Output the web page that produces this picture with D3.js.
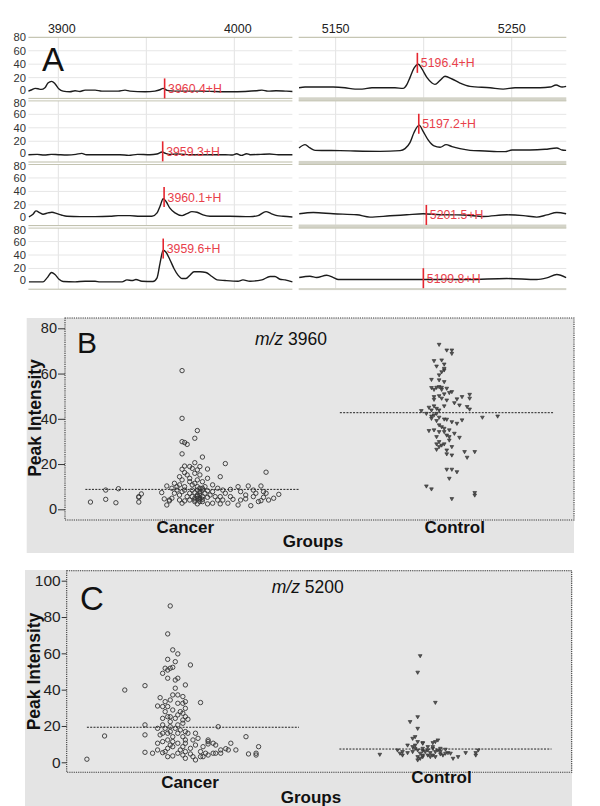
<!DOCTYPE html>
<html><head><meta charset="utf-8">
<script src="https://cdn.jsdelivr.net/npm/d3@7"></script>
<style>body{margin:0;background:#fff;} svg{display:block;font-family:"Liberation Sans",Arial,sans-serif;}</style>
</head><body><svg id="c" width="600" height="806"></svg>
<script>
// ---------------- DATA ----------------
// Panel A: spectra [m/z, intensity]
const spectrumL1 = [[3883,0],[3885,2],[3886.8,4],[3888.5,3.5],[3890.2,2.5],[3892.4,5],[3894.1,12],[3896.2,14.5],[3898.1,11],[3900.4,3],[3902.7,0],[3906.6,-1],[3909.5,0.5],[3912.3,-0.5],[3915.2,1.5],[3920.9,1.5],[3924.8,0],[3934,0],[3937.9,1.5],[3940.7,0],[3949.3,-1],[3954.9,0],[3957.8,2],[3959.5,4],[3961.8,1],[3966.3,0],[3980.5,0],[3997.5,-1],[4006,-0.5],[4012.3,0.5],[4015.7,1.5],[4019.1,0],[4023.7,0.5],[4029,0],[4033,-0.5]];
const spectrumL2 = [[3883,0],[3888,0.5],[3892,-0.5],[3896,0.5],[3900,0],[3905,-0.5],[3910,0.5],[3913.3,2],[3916,0],[3925,0],[3935,0],[3940,-1],[3945,0.5],[3952,0],[3956,1],[3959,4],[3961,2],[3963,0.5],[3968,1],[3975,0],[3985,0],[3995,0],[3999,-0.5],[4001.3,1.5],[4004,-1],[4007,1.5],[4009,0],[4015,0.5],[4020,1],[4025,0],[4033,0]];
const spectrumL3 = [[3883.3,2],[3885.6,6],[3887.3,11],[3889.6,8],[3891.3,6],[3894.1,8],[3896.4,9],[3899.2,7],[3902.1,4.5],[3904.9,3],[3912.3,2.5],[3920.9,2.5],[3929.4,3],[3934,4],[3940.7,4],[3946.4,3],[3953.2,3],[3956.1,8],[3957.8,18],[3959.6,29],[3961.2,25],[3963.4,15],[3966.3,8],[3970.3,4],[3973.1,7],[3975.9,10],[3978.8,9],[3982.2,5],[3986.2,3],[3997.5,3],[4008.9,2.5],[4013.5,4],[4018,10],[4020.9,7],[4024.3,4],[4027.7,3],[4033,2]];
const spectrumL4 = [[3883.3,0],[3891.3,0],[3893.6,6],[3896.2,14],[3898.1,11],[3900.4,4],[3902.7,0.5],[3909.5,0],[3915.2,1],[3920.9,1],[3923.7,0],[3936.2,0],[3939,3],[3941.9,2],[3944.1,3.5],[3947.5,1],[3953.8,0.5],[3956.1,6],[3957.8,28],[3959.6,47],[3961.2,44],[3963.4,33],[3965.7,20],[3968,10],[3970.3,5],[3972.5,5],[3974.8,10],[3977.1,15],[3980.5,15],[3983.9,14],[3987.3,8],[3990.2,3],[3994.7,2],[4002.1,1],[4004.9,3],[4008.9,1],[4015.7,3],[4020.3,8],[4023.1,8],[4025.9,4],[4028.8,3],[4033,0]];
const spectrumR1 = [[5129.2,5],[5132.6,6],[5148.5,6],[5155.3,5],[5161,3],[5165,3],[5170.6,5],[5183.7,5],[5188.3,4],[5190.5,10],[5192.2,20],[5194.5,34],[5197,40],[5199,33],[5201.9,20],[5204.7,12],[5206.4,10],[5209.3,16],[5212.1,22],[5216.1,18],[5220.6,12],[5226.3,7],[5237.7,5],[5245.1,3],[5251.9,5],[5266.1,5],[5271.8,6],[5275.2,9],[5278.6,6],[5280.9,7]];
const spectrumR2 = [[5129.2,10],[5132.6,15],[5135.4,10],[5138.3,6.5],[5152.5,6],[5175.2,5],[5186.6,6],[5189.4,9],[5192.2,18],[5194.5,33],[5197.4,44],[5199.6,35],[5202.5,22],[5205.9,13],[5209.3,11],[5212.7,15],[5216.1,12],[5220.6,9],[5226.3,6.5],[5234.8,5.5],[5241.7,4.5],[5246.2,4.5],[5250.2,7],[5260.4,7],[5268.9,8],[5275.6,10],[5278.6,7],[5280.9,6.5]];
const spectrumR3 = [[5129.3,6.7],[5137.3,8.6],[5148.7,6.7],[5162,5.2],[5169.5,1.8],[5180.9,3.7],[5190.4,5.2],[5199.8,6.7],[5209.3,5.2],[5222.5,5],[5233.9,2.7],[5247.2,5.2],[5256.6,4],[5264.2,1.8],[5270,5],[5275.6,8.6],[5280.9,6.7]];
const spectrumR4 = [[5129.3,6.5],[5135.4,8.5],[5139.2,6.5],[5144.9,10],[5148.7,6.5],[5151.5,3.5],[5175,3.5],[5199.8,3.5],[5225,3.5],[5247.2,5],[5264.2,3.5],[5269.9,6],[5275.6,11],[5280.9,6.5]];
// peak markers [label, m/z, height at marker centre]
const markersL = [["3960.4+H",3960.4,4],["3959.3+H",3959.3,5],["3960.1+H",3960.1,31.5],["3959.6+H",3959.6,49.6]];
const markersR = [["5196.4+H",5196.4,42],["5197.2+H",5197.2,46],["5201.5+H",5201.5,5],["5199.8+H",5199.8,5.5]];
const ticksL = [3900,4000], gridL = [3900,3950,4000];
const ticksR = [5150,5250], gridR = [5150,5200,5250];
const intensityTicks = [0,20,40,60,80];

// Panels B and C: groups and points [jitter, peak intensity]
const groups = ["Cancer","Control"];
const bCancer = [[-0.04,61.3],[-0.04,40.2],[0.02,34.8],[0.01,31.4],[-0.04,29.9],[-0.03,29.5],[-0.02,28.7],[-0.04,24.5],[0.04,23.1],[0.13,20.2],[0.01,20.6],[-0.03,19.1],[-0.01,18.9],[0.00,18.1],[0.02,17.4],[-0.04,17.7],[0.06,17.8],[0.29,16.4],[0.11,14.4],[-0.05,14.4],[-0.02,15.2],[0.01,15.9],[0.03,15.2],[0.06,13.7],[-0.04,13.0],[-0.01,12.2],[0.02,13.0],[0.04,12.2],[-0.10,10.3],[-0.07,11.5],[-0.05,10.8],[-0.03,10.0],[0.00,10.8],[0.02,10.0],[0.05,10.0],[0.08,10.8],[0.10,9.3],[0.12,8.5],[0.15,8.8],[0.18,10.0],[0.22,10.3],[0.27,10.3],[0.24,8.5],[0.28,7.8],[0.29,7.1],[0.34,6.6],[0.32,4.9],[0.30,4.1],[0.27,3.8],[0.26,3.4],[0.23,1.6],[0.21,4.6],[0.19,4.1],[0.18,1.9],[0.16,4.4],[0.15,5.6],[0.13,7.1],[0.11,5.6],[0.10,4.1],[0.08,2.7],[0.06,2.4],[0.04,3.4],[0.03,4.9],[0.02,6.3],[0.03,7.8],[0.04,5.6],[0.05,7.1],[0.06,5.3],[0.07,6.3],[0.08,7.8],[0.09,5.6],[0.01,4.9],[0.01,4.1],[0.03,3.4],[0.00,5.6],[-0.01,4.1],[-0.01,7.1],[-0.02,5.6],[-0.03,3.7],[-0.04,2.7],[-0.05,4.1],[-0.05,6.3],[-0.04,7.8],[-0.06,8.5],[-0.07,7.1],[-0.08,4.9],[-0.09,3.7],[-0.10,1.9],[-0.11,4.6],[-0.09,4.1],[-0.12,7.4],[-0.20,6.8],[-0.21,5.6],[-0.21,5.3],[-0.21,3.2],[-0.29,9.1],[-0.30,2.9],[-0.34,8.5],[-0.34,4.4],[-0.40,3.2],[0.02,8.5],[0.00,8.5],[-0.03,8.5],[0.03,9.3],[0.06,8.2],[0.04,9.3],[0.01,11.5],[-0.01,13.7],[-0.03,16.2],[0.03,18.9],[-0.06,10.0],[-0.08,9.3],[0.21,6.3],[0.24,5.6],[0.25,7.1],[0.28,5.3],[0.12,4.1],[0.14,2.7],[0.11,2.4],[0.19,7.8],[0.02,2.4],[0.03,6.3],[0.04,4.4],[0.01,7.4],[0.02,5.6],[0.03,7.1],[0.04,8.5],[0.02,4.7],[0.03,4.4],[0.01,3.4]];
const bControl = [[-0.03,72.9],[0.00,70.4],[0.02,70.4],[0.02,68.9],[-0.05,65.7],[-0.02,66.0],[-0.01,64.2],[-0.04,63.3],[-0.01,61.6],[-0.02,60.8],[-0.03,59.4],[-0.06,57.4],[-0.03,57.2],[-0.01,56.4],[-0.04,53.9],[-0.06,53.8],[-0.05,53.0],[-0.03,54.2],[-0.02,53.9],[0.00,53.5],[0.02,52.0],[0.01,51.6],[-0.01,51.0],[-0.03,50.2],[-0.05,49.8],[-0.05,48.6],[-0.02,49.1],[0.00,48.3],[0.06,49.8],[0.09,50.8],[0.09,49.1],[0.04,48.8],[0.03,47.1],[0.05,46.1],[0.08,45.4],[0.09,44.3],[-0.07,45.1],[-0.06,43.9],[-0.05,45.7],[-0.04,44.6],[-0.03,43.9],[-0.01,45.7],[-0.10,43.6],[-0.08,42.4],[-0.06,41.2],[-0.06,40.2],[-0.05,41.7],[-0.04,42.4],[-0.03,40.7],[-0.01,39.9],[0.00,39.8],[-0.04,39.2],[-0.03,37.3],[-0.02,36.5],[-0.01,35.8],[0.02,38.7],[0.04,38.0],[0.06,39.5],[0.14,40.7],[0.20,41.2],[-0.07,34.8],[-0.05,35.1],[-0.03,34.3],[-0.01,34.3],[0.00,32.8],[0.01,32.1],[0.03,33.6],[0.05,31.8],[-0.04,32.1],[-0.03,29.9],[-0.04,28.9],[-0.02,28.4],[-0.04,26.5],[-0.01,28.9],[0.02,27.7],[0.00,24.5],[0.02,24.0],[0.07,25.5],[0.11,25.5],[0.08,23.0],[0.00,17.7],[0.02,17.7],[0.04,16.6],[0.01,13.7],[-0.08,10.3],[-0.06,9.0],[0.02,4.7],[0.11,7.4],[0.11,6.3],[0.01,35.1],[0.01,30.6],[-0.02,53.0],[-0.01,62.3],[0.00,26.2],[-0.03,27.7]];
const cCancer = [[-0.09,86.1],[-0.10,70.7],[-0.08,61.9],[-0.06,59.7],[-0.10,56.7],[-0.07,55.4],[-0.01,53.6],[-0.11,51.8],[-0.10,50.8],[-0.09,51.8],[-0.08,52.3],[-0.12,49.0],[-0.10,46.3],[-0.07,45.3],[-0.06,46.3],[-0.27,39.8],[-0.19,42.2],[-0.03,42.6],[-0.07,40.8],[-0.08,37.1],[-0.06,37.1],[-0.04,36.2],[-0.13,35.6],[-0.11,33.4],[-0.09,34.3],[-0.06,32.5],[-0.04,32.5],[-0.03,33.4],[0.03,32.9],[-0.14,31.0],[-0.12,30.7],[-0.10,30.7],[-0.08,28.8],[-0.11,27.9],[-0.05,27.9],[-0.03,29.7],[-0.12,24.2],[-0.09,25.1],[-0.06,26.1],[-0.04,27.0],[-0.03,25.1],[-0.02,23.7],[-0.07,24.2],[-0.04,21.5],[-0.19,20.6],[0.10,19.6],[-0.12,20.6],[-0.11,18.7],[-0.09,19.6],[-0.07,18.7],[-0.05,17.8],[-0.03,16.9],[-0.02,16.0],[0.01,16.0],[-0.19,15.1],[-0.13,15.1],[-0.10,16.0],[-0.08,14.1],[-0.04,14.1],[0.00,12.3],[0.02,13.2],[0.06,12.3],[0.06,10.1],[0.06,11.4],[0.21,14.1],[0.26,8.6],[-0.14,10.5],[-0.12,11.4],[-0.10,12.3],[-0.08,11.4],[-0.06,10.5],[-0.03,10.5],[0.01,9.5],[0.04,8.6],[0.08,10.5],[0.09,9.5],[0.15,10.5],[0.13,7.5],[0.17,6.8],[0.11,6.8],[0.08,5.0],[0.05,5.0],[0.03,5.9],[0.00,3.1],[-0.01,4.6],[-0.03,5.9],[-0.04,4.0],[-0.06,5.0],[-0.08,3.5],[-0.10,3.1],[-0.11,5.9],[-0.12,5.3],[-0.14,6.8],[-0.16,5.0],[-0.19,5.5],[-0.08,8.6],[-0.04,8.6],[-0.01,7.7],[0.04,3.1],[0.06,4.0],[0.09,5.0],[0.11,5.0],[0.14,6.8],[0.22,4.6],[0.25,5.0],[0.25,4.0],[-0.35,14.5],[-0.42,1.7],[-0.09,9.5],[-0.10,7.7],[-0.05,6.8],[-0.03,2.2],[0.01,1.3],[0.03,3.1],[-0.09,22.4],[-0.06,20.6],[-0.04,23.3],[-0.10,25.1],[-0.03,12.3],[-0.12,16.0],[-0.09,16.9],[-0.06,16.0],[-0.14,18.7]];
const cControl = [[-0.10,58.7],[-0.11,49.6],[-0.04,33.0],[-0.11,25.1],[-0.14,22.4],[-0.11,18.7],[-0.12,14.1],[-0.13,13.2],[-0.11,11.4],[-0.09,10.8],[-0.09,10.5],[-0.05,10.8],[-0.04,11.4],[-0.03,12.3],[-0.15,9.5],[-0.13,8.6],[-0.12,7.7],[-0.11,6.8],[-0.09,6.4],[-0.08,5.9],[-0.07,6.8],[-0.05,7.7],[-0.04,5.9],[-0.03,6.8],[-0.02,5.9],[0.00,7.2],[0.01,5.3],[0.03,2.2],[0.05,3.1],[0.02,5.0],[0.08,5.3],[0.12,5.3],[0.12,4.0],[0.13,6.8],[-0.19,6.8],[-0.18,5.0],[-0.17,4.0],[-0.17,5.9],[-0.15,5.3],[-0.26,4.4],[-0.11,3.1],[-0.10,2.2],[-0.09,3.1],[-0.07,4.0],[-0.06,3.1],[-0.05,4.0],[-0.04,3.1],[-0.02,4.6],[-0.01,4.0],[0.00,5.0],[-0.11,1.3],[-0.09,4.0],[-0.13,5.9],[-0.10,5.0],[-0.09,7.7],[-0.07,8.6],[-0.06,5.3],[-0.05,8.6],[-0.12,9.5],[-0.02,7.7]];
const bMedians = [8.8, 42.7];
const cMedians = [19.3, 7.3];
const bTicks = [0,20,40,60,80];
const cTicks = [0,20,40,60,80,100];

// ---------------- DRAW ----------------
const svg = d3.select('#c');
const RED = '#e5262f';

// ---- Panel A ----
const rowTop = i => 37.3 + 63.6 * i;
const rowH = 53.8;
const colsA = [
  {domain:[3883,4033], range:[28.4,292.4], ticks:ticksL, grid:gridL, spectra:[spectrumL1,spectrumL2,spectrumL3,spectrumL4], markers:markersL, bar:false, tickDx:3.5},
  {domain:[5129,5281], range:[298.7,566.3], ticks:ticksR, grid:gridR, spectra:[spectrumR1,spectrumR2,spectrumR3,spectrumR4], markers:markersR, bar:true, tickDx:0}
];
const gA = svg.append('g');
colsA.forEach((col, ci) => {
  const x = d3.scaleLinear().domain(col.domain).range(col.range);
  const [xa, xb] = col.range;
  gA.selectAll(null).data(col.ticks).join('text')
    .attr('x', d => x(d) + col.tickDx).attr('y', 32.5)
    .attr('text-anchor','middle').attr('font-size',12.5).attr('fill','#222')
    .text(d => d);
  for (let i = 0; i < 4; i++) {
    const top = rowTop(i);
    const y = d3.scaleLinear().domain([0,80]).range([top + rowH, top]);
    const y0 = y(0);
    gA.selectAll(null).data(col.grid).join('line')
      .attr('x1', d => x(d)).attr('x2', d => x(d))
      .attr('y1', top).attr('y2', y0 + 7)
      .attr('stroke','#e2e2e2').attr('stroke-width',1);
    gA.selectAll(null).data([20,40,60]).join('line')
      .attr('x1', xa).attr('x2', xb).attr('y1', d => y(d)).attr('y2', d => y(d))
      .attr('stroke','#e6e6e6').attr('stroke-width',1);
    gA.append('line').attr('x1', xa).attr('x2', xb).attr('y1', y(80)).attr('y2', y(80))
      .attr('stroke', i === 0 ? '#b8b8a2' : '#c4c4b2').attr('stroke-width', 1);
    if (col.bar) {
      gA.append('rect').attr('x', xa).attr('width', xb - xa)
        .attr('y', y0 + 6.2).attr('height', i === 3 ? 2 : 3.6)
        .attr('fill','#d3d3c8');
    } else {
      gA.append('line').attr('x1', xa).attr('x2', xb).attr('y1', y0 + 7.3).attr('y2', y0 + 7.3)
        .attr('stroke','#bcbca8').attr('stroke-width',1);
    }
    if (ci === 0) {
      gA.selectAll(null).data(intensityTicks).join('text')
        .attr('x', 26).attr('y', d => y(d) + (d === 0 ? -1.6 : d === 80 && i > 0 ? 1.6 : 0)).attr('dy','0.36em')
        .attr('text-anchor','end').attr('font-size',11.2).attr('fill','#333')
        .text(d => d);
    }
    const line = d3.line().x(d => x(d[0])).y(d => y(d[1])).curve(d3.curveMonotoneX);
    gA.append('path').datum(col.spectra[i]).attr('d', line)
      .attr('fill','none').attr('stroke','#1c1c1c').attr('stroke-width',1.4);
    const m = col.markers[i];
    const mx = x(m[1]), my = y(m[2]);
    gA.append('line').attr('x1', mx).attr('x2', mx).attr('y1', my - 10).attr('y2', my + 10)
      .attr('stroke', RED).attr('stroke-width',1.6);
    gA.append('text').attr('x', mx + 3.5).attr('y', my + 4.4)
      .attr('font-size',12.3).attr('fill','#e8404a').text(m[0]);
  }
});
gA.append('text').attr('x', 42).attr('y', 70.7).attr('font-size',33).attr('fill','#111').text('A');

// ---- Panels B and C ----
function scatterPanel(cfg) {
  const g = svg.append('g');
  g.append('rect').attr('x', cfg.outer[0]).attr('y', cfg.outer[1])
    .attr('width', cfg.outer[2]).attr('height', cfg.outer[3]).attr('fill','#e4e4e4');
  const [px0, py0, px1, py1] = cfg.plot;
  const x = d3.scaleLinear().domain([-0.5, 1.5]).range([px0, px1]);
  const y = d3.scaleLinear().domain(cfg.yDomain).range(cfg.yRange);
  g.append('rect').attr('x', px0).attr('y', py0).attr('width', px1 - px0).attr('height', py1 - py0)
    .attr('fill','#e6e6e6').attr('stroke','#3a3a3a').attr('stroke-width',1.1)
    .attr('stroke-dasharray','1.2,1');
  const axis = d3.axisLeft(y).tickValues(cfg.ticks).tickSize(cfg.tickLen).tickPadding(1);
  const ga = g.append('g').attr('transform', `translate(${px0},0)`).call(axis);
  ga.select('.domain').remove();
  ga.selectAll('.tick line').attr('stroke','#333');
  ga.selectAll('.tick text').attr('font-family','"Liberation Sans Narrow","Arial Narrow",sans-serif')
    .attr('font-size', cfg.tickFont).attr('fill','#222');
  g.selectAll(null).data(cfg.medians).join('line')
    .attr('x1', (d,i) => x(i - 0.42)).attr('x2', (d,i) => x(i + 0.42))
    .attr('y1', d => y(d)).attr('y2', d => y(d))
    .attr('stroke','#222').attr('stroke-width',1).attr('stroke-dasharray','2,1.3');
  g.selectAll(null).data(cfg.cancer).join('circle')
    .attr('cx', d => x(0 + d[0])).attr('cy', d => y(d[1])).attr('r', 2.2)
    .attr('fill','none').attr('stroke','#333').attr('stroke-width',0.9);
  const tri = d3.symbol().type(d3.symbolTriangle).size(6);
  g.selectAll(null).data(cfg.control).join('path')
    .attr('d', tri)
    .attr('transform', d => `translate(${x(1 + d[0])},${y(d[1])}) rotate(180)`)
    .attr('fill','#555').attr('stroke','#2a2a2a').attr('stroke-width',0.6);
  g.append('text').attr('x', cfg.letterPos[0]).attr('y', cfg.letterPos[1])
    .attr('font-size', cfg.letterSize).attr('fill','#111').text(cfg.letter);
  const t = g.append('text').attr('x', cfg.titlePos[0]).attr('y', cfg.titlePos[1])
    .attr('font-size',17.5).attr('fill','#111');
  t.append('tspan').attr('font-style','italic').text('m/z');
  t.append('tspan').text(' ' + cfg.mz);
  g.append('text').attr('transform', `translate(${cfg.yLabelPos[0]},${cfg.yLabelPos[1]}) rotate(-90)`)
    .attr('text-anchor','middle').attr('font-size',17.5).attr('font-weight','bold').attr('fill','#111')
    .text('Peak Intensity');
  g.selectAll(null).data(groups).join('text')
    .attr('x', (d,i) => x(i) + cfg.groupDx[i]).attr('y', (d,i) => cfg.groupY[i])
    .attr('text-anchor','middle').attr('font-size',17).attr('font-weight','bold').attr('fill','#111')
    .text(d => d);
  g.append('text').attr('x', cfg.groupsPos[0]).attr('y', cfg.groupsPos[1])
    .attr('text-anchor','middle').attr('font-size',17).attr('font-weight','bold').attr('fill','#111')
    .text('Groups');
}

scatterPanel({
  outer:[26.7,318,547.3,235], plot:[65,318,574,520],
  yDomain:[0,80], yRange:[509.3,328.3], ticks:bTicks, tickLen:7, tickFont:14.5,
  medians:bMedians, cancer:bCancer, control:bControl,
  letter:'B', letterPos:[77,353.3], letterSize:30,
  mz:'3960', titlePos:[255,345], yLabelPos:[41,418],
  groupDx:[-7,8], groupY:[533,533], groupsPos:[313,546.5]
});
scatterPanel({
  outer:[25,570,547,236], plot:[66.7,570.7,571.7,772.3],
  yDomain:[0,100], yRange:[762.3,580.7], ticks:cTicks, tickLen:5, tickFont:15.5,
  medians:cMedians, cancer:cCancer, control:cControl,
  letter:'C', letterPos:[80,610], letterSize:33,
  mz:'5200', titlePos:[271.7,593.3], yLabelPos:[40,671.5],
  groupDx:[-3,-4], groupY:[788,783], groupsPos:[311,803]
});
</script></body></html>
